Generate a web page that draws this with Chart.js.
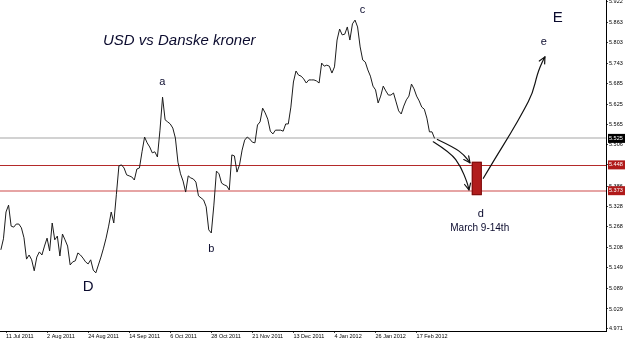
<!DOCTYPE html>
<html><head><meta charset="utf-8">
<script src="https://cdn.jsdelivr.net/npm/chart.js@4.4.1/dist/chart.umd.min.js"></script>
<style>html,body{margin:0;padding:0;background:#fff;overflow:hidden}#wrap{width:625px;height:341px}</style>
</head><body><div id="wrap"><canvas id="c" width="625" height="341"></canvas></div>
<script>
// ---- data ----
const startBar = -2; // bar index of first close (11 Jul 2011 = bar 0)
const closes = [
5.201,5.233,5.311,5.331,5.270,5.267,5.276,5.276,5.265,5.236,
5.174,5.186,5.172,5.140,5.180,5.195,5.186,5.212,5.235,5.198,
5.279,5.230,5.241,5.183,5.247,5.230,5.212,5.157,5.166,5.169,
5.192,5.186,5.177,5.166,5.160,5.172,5.142,5.134,5.157,5.180,
5.206,5.235,5.270,5.311,5.279,5.361,5.445,5.448,5.439,5.419,
5.416,5.413,5.404,5.436,5.439,5.486,5.529,5.512,5.500,5.483,
5.486,5.471,5.549,5.645,5.579,5.573,5.567,5.555,5.526,5.456,
5.422,5.401,5.369,5.416,5.410,5.407,5.398,5.358,5.352,5.346,
5.326,5.259,5.250,5.331,5.430,5.422,5.395,5.390,5.387,5.375,
5.477,5.474,5.427,5.448,5.491,5.520,5.529,5.523,5.514,5.512,
5.564,5.573,5.613,5.599,5.581,5.546,5.538,5.549,5.549,5.549,
5.546,5.567,5.567,5.616,5.689,5.721,5.709,5.706,5.698,5.686,
5.695,5.695,5.695,5.692,5.686,5.744,5.735,5.738,5.735,5.715,
5.733,5.811,5.843,5.826,5.828,5.849,5.811,5.858,5.869,5.849,
5.791,5.753,5.747,5.724,5.706,5.677,5.666,5.628,5.648,5.677,
5.663,5.651,5.651,5.657,5.631,5.605,5.596,5.619,5.637,5.648,
5.683,5.669,5.648,5.634,5.616,5.610,5.584,5.544,5.544,5.525
];
const xTickBars = [0,16,32,48,64,80,96,112,128,144,160];
const xTickLabels = ['11 Jul 2011','2 Aug 2011','24 Aug 2011','14 Sep 2011','6 Oct 2011','28 Oct 2011','21 Nov 2011','13 Dec 2011','4 Jan 2012','26 Jan 2012','17 Feb 2012'];
const yTickValues = [4.971,5.029,5.089,5.149,5.208,5.268,5.328,5.386,5.448,5.506,5.565,5.625,5.685,5.743,5.803,5.863,5.922];
const currentPrice = 5.525;
const supportHigh = 5.448;
const supportLow = 5.373;
const xRange = [-2.34, 233.8];
const yRange = [4.965, 5.9274];

// annotations (in bar / price units)
const title = {text:'USD vs Danske kroner', bar:67.5, value:5.808};
const waveLabels = [
  {text:'a', bar:60.9, value:5.689, big:false},
  {text:'b', bar:80.0, value:5.204, big:false},
  {text:'c', bar:138.9, value:5.898, big:false},
  {text:'d', bar:185.0, value:5.305, big:false},
  {text:'e', bar:209.6, value:5.805, big:false},
  {text:'D', bar:32.0, value:5.093, big:true},
  {text:'E', bar:215.0, value:5.875, big:true}
];
const dateNote = {text:'March 9-14th', bar:184.6, value:5.265};
const zoneBox = {barFrom:181.5, barTo:185.4, valueFrom:5.360, valueTo:5.457};
const arrows = [
  [[166.5,5.515],[173.3,5.483],[177.2,5.443],[179.8,5.395],[180.4,5.375]],
  [[168.1,5.522],[174.6,5.499],[178.5,5.477],[180.8,5.454]],
  [[186.0,5.409],[190.2,5.462],[196.7,5.540],[201.9,5.608],[205.2,5.656],[207.1,5.714],[209.0,5.748],[210.0,5.762]]
];

// ---- styles ----
const FONT = 'Liberation Sans, Arial, sans-serif';
const AXFONT = 5.5;
const TEXTCOL = '#0b0b2e';

const overlay = {
  id:'overlay',
  beforeDatasetsDraw(chart){
    const {ctx, chartArea:a, scales:{y}} = chart;
    const lv = [[currentPrice,'#d2d2d2',2],[supportHigh,'#b42a2a',1],[supportLow,'#e6a4a4',2]];
    ctx.save();
    lv.forEach(([v,c,w])=>{
      const py = Math.round(y.getPixelForValue(v)) + (w===1?0.5:0);
      ctx.strokeStyle=c; ctx.lineWidth=w;
      ctx.beginPath(); ctx.moveTo(a.left,py); ctx.lineTo(a.right,py); ctx.stroke();
    });
    ctx.restore();
  },
  afterDatasetsDraw(chart){
    const {ctx, scales:{x,y}} = chart;
    ctx.save();
    // zone box
    const x1=x.getPixelForValue(zoneBox.barFrom), x2=x.getPixelForValue(zoneBox.barTo);
    const y1=y.getPixelForValue(zoneBox.valueTo), y2=y.getPixelForValue(zoneBox.valueFrom);
    ctx.fillStyle='#b11d1d'; ctx.fillRect(x1,y1,x2-x1,y2-y1);
    ctx.strokeStyle='#7a0c0c'; ctx.lineWidth=1; ctx.strokeRect(x1+0.5,y1+0.5,x2-x1-1,y2-y1-1);
    // arrows
    ctx.strokeStyle='#111'; ctx.lineWidth=1.2; ctx.lineJoin='round'; ctx.lineCap='round';
    arrows.forEach(pts=>{
      const p = pts.map(([b,v])=>[x.getPixelForValue(b), y.getPixelForValue(v)]);
      ctx.beginPath(); ctx.moveTo(p[0][0],p[0][1]);
      for(let k=1;k<p.length-1;k++){
        const mx=(p[k][0]+p[k+1][0])/2, my=(p[k][1]+p[k+1][1])/2;
        ctx.quadraticCurveTo(p[k][0],p[k][1],mx,my);
      }
      ctx.lineTo(p[p.length-1][0],p[p.length-1][1]);
      ctx.stroke();
      const [ax,ay]=p[p.length-2], [bx,by]=p[p.length-1];
      const ang=Math.atan2(by-ay,bx-ax), L=7;
      ctx.beginPath();
      ctx.moveTo(bx-L*Math.cos(ang-0.45), by-L*Math.sin(ang-0.45));
      ctx.lineTo(bx,by);
      ctx.lineTo(bx-L*Math.cos(ang+0.45), by-L*Math.sin(ang+0.45));
      ctx.stroke();
    });
    // texts
    ctx.textAlign='center'; ctx.textBaseline='middle'; ctx.fillStyle=TEXTCOL;
    ctx.font='italic 15px '+FONT;
    ctx.fillText(title.text, x.getPixelForValue(title.bar), y.getPixelForValue(title.value));
    waveLabels.forEach(l=>{
      ctx.font=(l.big?'15px ':'11px ')+FONT;
      ctx.fillText(l.text, x.getPixelForValue(l.bar), y.getPixelForValue(l.value));
    });
    ctx.font='10px '+FONT;
    ctx.fillText(dateNote.text, x.getPixelForValue(dateNote.bar), y.getPixelForValue(dateNote.value));
    ctx.restore();
  },
  afterDraw(chart){
    const {ctx, chartArea:a, scales:{y}} = chart;
    const boxes = [[currentPrice,'#000000'],[supportHigh,'#b01a1a'],[supportLow,'#b01a1a']];
    ctx.save();
    ctx.font=AXFONT+'px '+FONT; ctx.textAlign='left'; ctx.textBaseline='middle';
    boxes.forEach(([v,c])=>{
      const py=y.getPixelForValue(v);
      ctx.fillStyle=c; ctx.fillRect(a.right+2, py-4.5, 625-a.right-2, 9);
      ctx.fillStyle='#fff'; ctx.fillText(v.toFixed(3), a.right+3, py);
    });
    ctx.restore();
  }
};

new Chart(document.getElementById('c'), {
  type:'line',
  data:{datasets:[{
    data: closes.map((v,i)=>({x:startBar+i, y:v})),
    borderColor:'#1c1c1c', borderWidth:1, pointRadius:0, tension:0, fill:false
  }]},
  options:{
    responsive:false, animation:false, devicePixelRatio:1,
    layout:{padding:0},
    plugins:{legend:{display:false}, tooltip:{enabled:false}, title:{display:false}},
    scales:{
      x:{type:'linear', position:'bottom', min:xRange[0], max:xRange[1],
        afterBuildTicks:s=>{ s.ticks = xTickBars.map(v=>({value:v})); },
        afterFit:s=>{ s.height=10; s.paddingLeft=0; s.paddingRight=0; },
        grid:{drawOnChartArea:false, drawTicks:true, tickLength:2, tickColor:'#444'},
        border:{display:true, color:'#000', width:1},
        ticks:{autoSkip:false, maxRotation:0, minRotation:0, align:'start', padding:0,
          font:{family:FONT, size:AXFONT}, color:'#000',
          callback:(v,i)=>xTickLabels[i]}
      },
      y:{type:'linear', position:'right', min:yRange[0], max:yRange[1],
        afterBuildTicks:s=>{ s.ticks = yTickValues.map(v=>({value:v})); },
        afterFit:s=>{ s.width=19; s.paddingTop=0; s.paddingBottom=0; },
        grid:{drawOnChartArea:false, drawTicks:true, tickLength:2, tickColor:'#444'},
        border:{display:true, color:'#000', width:1},
        ticks:{autoSkip:false, padding:1, font:{family:FONT, size:AXFONT}, color:'#000',
          callback:v=>Number(v).toFixed(3)}
      }
    }
  },
  plugins:[overlay]
});
</script>
</body></html>
